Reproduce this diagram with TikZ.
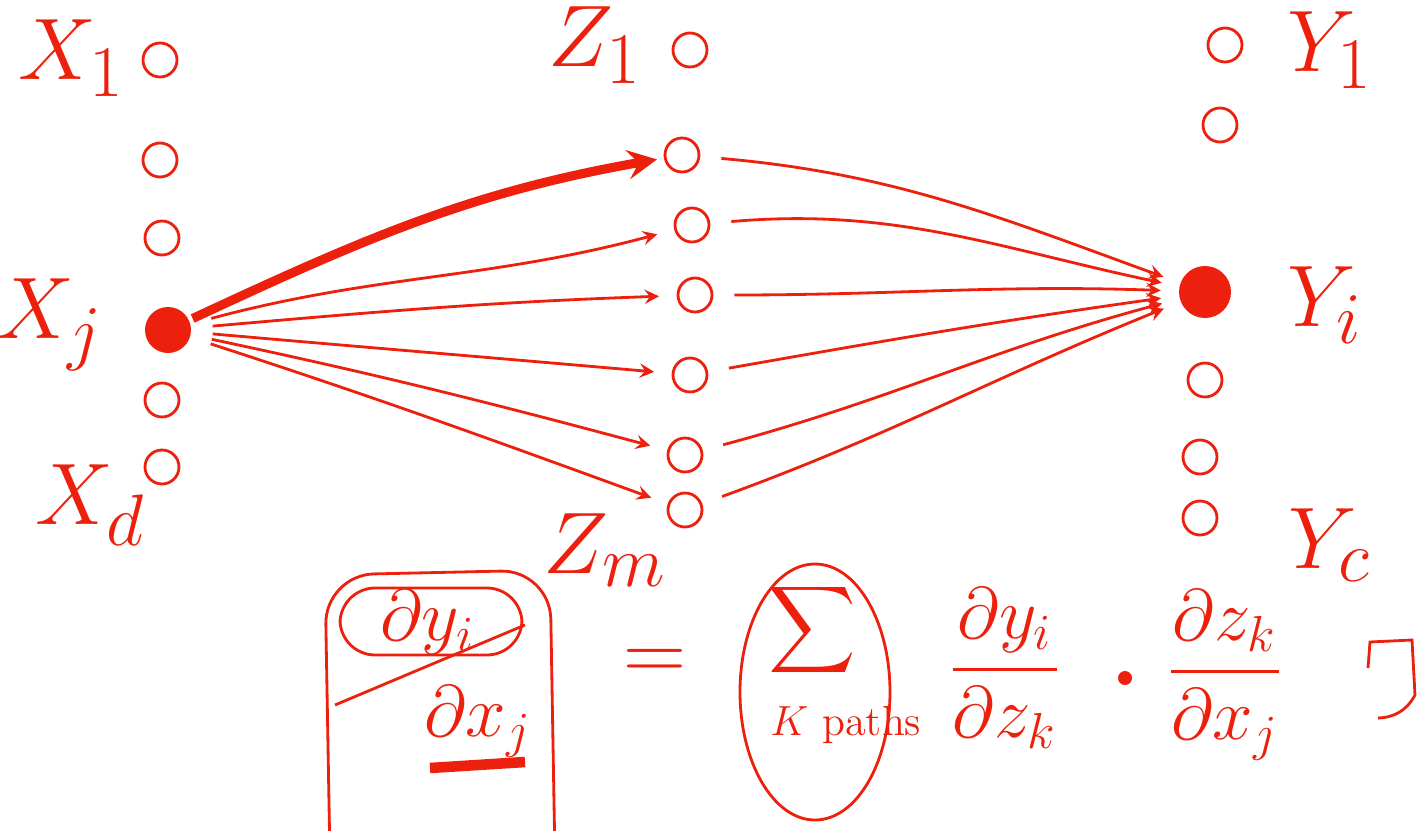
\documentclass[tikz,border=0pt]{standalone}
\usepackage{amsmath}
\definecolor{hred}{RGB}{236,32,12}

\begin{document}
\begin{tikzpicture}[>=stealth, x=1cm, y=1cm,
    unit/.style={circle, draw=hred, thick, minimum size=0.34cm, inner sep=0pt},
    bigdot/.style={circle, fill=hred, minimum size=0.46cm, inner sep=0pt},
    lbl/.style={text=hred, font=\Huge},
    frm/.style={text=hred, font=\huge},
    link/.style={hred, thick, ->, shorten >=5pt, shorten <=6pt},
    mainlink/.style={hred, line width=2.6pt, ->, shorten >=2pt, shorten <=1pt}]
  \useasboundingbox (0,0) rectangle (14.25,8.30);

  % Capa de entrada X
  \node[unit]   (x1) at (1.60,7.70) {};
  \node[unit]   (x2) at (1.60,6.70) {};
  \node[unit]   (x3) at (1.62,5.92) {};
  \node[bigdot] (xj) at (1.68,5.00) {};
  \node[unit]   (x5) at (1.62,4.30) {};
  \node[unit]   (xd) at (1.62,3.63) {};
  \node[lbl] (lx1) at (0.72,7.72) {$X_1$};
  \node[lbl] (lxj) at (0.50,5.05) {$X_j$};
  \node[lbl] (lxd) at (0.90,3.25) {$X_d$};

  % Capa oculta Z
  \node[unit] (z1) at (6.90,7.80) {};
  \node[unit] (z2) at (6.82,6.75) {};
  \node[unit] (z3) at (6.92,6.05) {};
  \node[unit] (z4) at (6.95,5.35) {};
  \node[unit] (z5) at (6.90,4.55) {};
  \node[unit] (z6) at (6.85,3.75) {};
  \node[unit] (z7) at (6.85,3.20) {};
  \node[lbl] (lz1) at (5.95,7.85) {$Z_1$};
  \node[lbl] (lzm) at (6.05,2.80) {$Z_m$};

  % Capa de salida Y
  \node[unit]   (y1) at (12.25,7.85) {};
  \node[unit]   (y2) at (12.20,7.05) {};
  \node[bigdot, minimum size=0.52cm] (yi) at (12.05,5.38) {};
  \node[unit]   (y4) at (12.05,4.50) {};
  \node[unit]   (y5) at (12.00,3.73) {};
  \node[unit]   (yc) at (12.00,3.12) {};
  \node[lbl] (ly1) at (13.30,7.80) {$Y_1$};
  \node[lbl] (lyi) at (13.25,5.25) {$Y_i$};
  \node[lbl] (lyc) at (13.30,2.85) {$Y_c$};

  % De X_j a la capa Z
  \draw[mainlink] (xj) to[out=25,in=190] (z2);
  \draw[link] (xj) to[out=15,in=195] (z3);
  \draw[link] (xj) to[out=5,in=182] (z4);
  \draw[link] (xj) to[out=-5,in=175] (z5);
  \draw[link] (xj) to[out=-12,in=165] (z6);
  \draw[link] (xj) to[out=-18,in=160] (z7);

  % De la capa Z a Y_i
  \draw[link] (z2) to[out=-5,in=160] (yi);
  \draw[link] (z3) to[out=5,in=168] (yi);
  \draw[link] (z4) to[out=0,in=178] (yi);
  \draw[link] (z5) to[out=10,in=188] (yi);
  \draw[link] (z6) to[out=15,in=195] (yi);
  \draw[link] (z7) to[out=20,in=202] (yi);

  % Lado izquierdo de la ecuacion
  \draw[hred, thick, rounded corners=14pt] (3.30,-0.30) -- (3.25,2.55) -- (5.50,2.60) -- (5.55,-0.30);
  \node[frm] (dyi) at (4.28,2.08) {$\partial y_i$};
  \draw[hred, thick, rounded corners=10pt] (3.40,1.75) rectangle (5.22,2.42);
  \draw[hred, thick] (3.35,1.25) -- (5.25,2.05);
  \node[frm] (dxj) at (4.78,1.08) {$\partial x_j$};
  \draw[hred, line width=3pt] (4.30,0.62) -- (5.25,0.68);

  % Lado derecho
  \node[lbl] (eq) at (6.55,1.65) {$=$};
  \draw[hred, thick] (8.15,1.38) ellipse (0.75 and 1.28);
  \node[text=hred, font=\LARGE] (sum) at (8.12,2.00) {$\displaystyle\sum$};
  \node[text=hred, font=\large, anchor=west] (paths) at (7.58,1.05) {$K$ paths};
  \node[frm] (frA) at (10.05,1.62) {$\displaystyle\frac{\partial y_i}{\partial z_k}$};
  \fill[hred] (11.25,1.52) circle (0.07);
  \node[frm] (frB) at (12.25,1.55) {$\displaystyle\frac{\partial z_k}{\partial x_j}$};
  \draw[hred, thick] (13.68,1.62) -- (13.70,1.88) -- (14.12,1.90) -- (14.15,1.35) to[bend left=30] (13.78,1.12);
\end{tikzpicture}
\end{document}
